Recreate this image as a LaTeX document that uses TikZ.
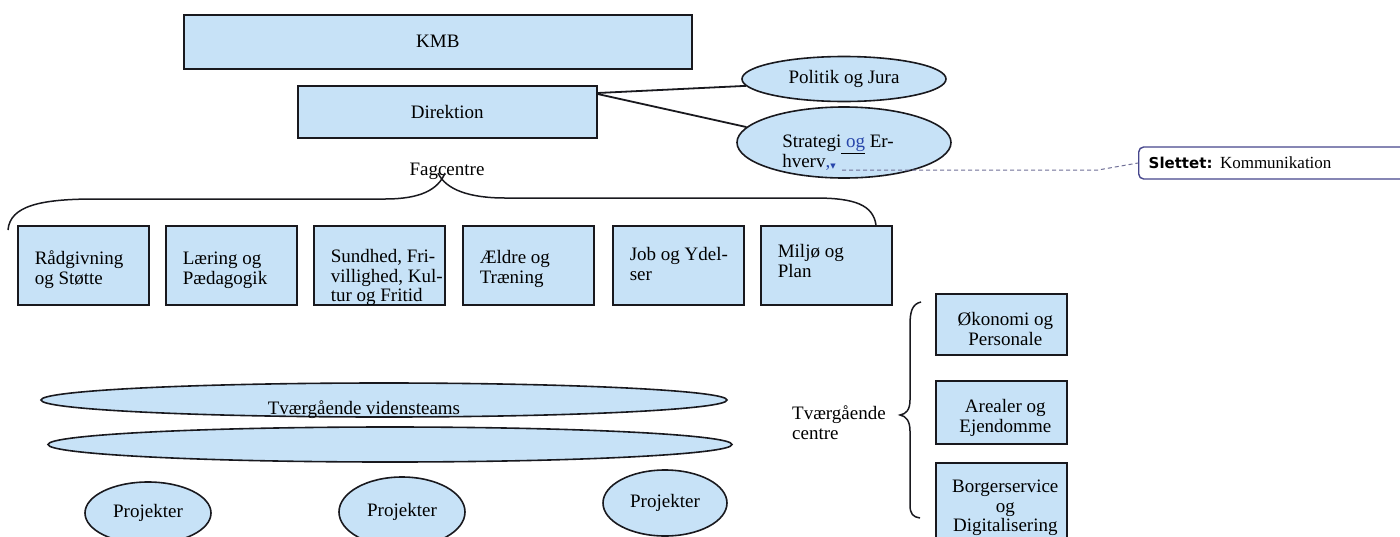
\documentclass[tikz,border=0pt]{standalone}
\usepackage{fontspec}
\setmainfont{Liberation Serif}
\newfontfamily\tnr{Liberation Serif}
\newfontfamily\dvs{DejaVu Sans}
\usetikzlibrary{shapes.geometric,calc}
\definecolor{fillblue}{RGB}{199,226,247}
\definecolor{edgec}{RGB}{25,25,30}
\definecolor{tblue}{RGB}{40,70,170}
\definecolor{dashc}{RGB}{110,110,150}
\definecolor{slc}{RGB}{70,70,140}
% left-aligned text block with fixed first baseline
\newcommand\tbk[2]{\parbox[c][79pt][t]{131pt}{\raggedright\leftskip=17pt\rule{0pt}{#1pt}#2}}
% centred text block: first baseline, height
\newcommand\cbk[3]{\parbox[c][#2pt][t]{131pt}{\centering\leftskip=8pt plus 1fil\rule{0pt}{#1pt}#3}}
\begin{document}
\begin{tikzpicture}[x=1pt,y=-1pt,
  every node/.style={font=\tnr\fontsize{19}{19.5}\selectfont},
  sqbox/.style={draw=edgec, line width=1.6pt, fill=fillblue, inner sep=0pt, anchor=north west},
  fcbox/.style={sqbox, minimum width=131pt, minimum height=79pt},
  oval/.style={ellipse, draw=edgec, line width=1.6pt, fill=fillblue, inner sep=0pt},
  conn/.style={draw=edgec, line width=1.8pt},
  brace/.style={draw=edgec, line width=1.5pt},
  dashline/.style={draw=dashc, line width=1pt, dash pattern=on 4pt off 3pt}]
\useasboundingbox (0,0) rectangle (1400,536);
\clip (0,0) rectangle (1400,536);

% top boxes
\node[sqbox, minimum width=508pt, minimum height=54pt] (kmb) at (183,14) {KMB};
\node[sqbox, minimum width=299pt, minimum height=52pt] (dir) at (297,85) {Direktion};

% staff ellipses
\node[oval, minimum width=204pt, minimum height=45pt] (pol) at (844,79) {Politik og Jura};
\node[oval, minimum width=214pt, minimum height=71pt,
  label={[align=left, xshift=-6pt, yshift=-10pt]center:Strategi\underline{\color{tblue}\ og} Er-\\hverv{\color{tblue},\raisebox{-1pt}{\dvs\fontsize{7}{7}\selectfont ▼}}}] (strat) at (844,142.5) {};

% connectors to staff ellipses
\draw[conn] ($(dir.north east)+(0,8)$) -- (pol.184);
\draw[conn] ($(dir.north east)+(0,9)$) -- (strat.171);

% deleted-comment balloon
\coordinate (mk) at (842,170);
\node[draw=slc, line width=1.4pt, rounded corners=5pt, fill=white, anchor=west,
  minimum height=32pt, text width=272pt, inner xsep=10pt, align=left,
  font=\tnr\fontsize{17}{18}\selectfont] (sl) at (1138,163)
  {{\dvs\bfseries\fontsize{15}{15}\selectfont Slettet:}\hspace{-1pt} Kommunikation};
\draw[dashline] (mk) -- ++(256,0) -- (sl.west);

% Fagcentre brace
\node[anchor=base] (fag) at (447,175) {Fagcentre};
\draw[brace] (8,230) .. controls (10,206) and (40,199) .. (95,199) -- (385,199)
  .. controls (420,199) and (438,190) .. (445,173);
\draw[brace] (438,173) .. controls (446,190) and (470,198) .. (505,198) -- (815,198)
  .. controls (855,198) and (873,205) .. (876,225);

% row of Fagcentre
\node[fcbox] (f1) at (17,225)  {\tbk{39}{Rådgivning\\og Støtte}};
\node[fcbox] (f2) at (165,225) {\tbk{39}{Læring og\\Pædagogik}};
\node[fcbox] (f3) at (313,225) {\tbk{37}{Sundhed, Fri-\\villighed, Kul-\\tur og Fritid}};
\node[fcbox] (f4) at (462,225) {\tbk{38}{Ældre og\\Træning}};
\node[fcbox] (f5) at (612,225) {\tbk{35}{Job og Ydel-\\ser}};
\node[fcbox] (f6) at (760,225) {\tbk{32}{Miljø og\\Plan}};

% Tværgående centre
\node[anchor=north west, align=left, inner sep=0pt] (tvc) at (792,406) {Tværgående\\centre};
\draw[brace] (921,302) .. controls (912,304) and (910,312) .. (910,325) -- (910,400)
  .. controls (910,410) and (906,414) .. (900,415)
  .. controls (906,416) and (910,421) .. (910,431) -- (910,505)
  .. controls (910,514) and (913,517) .. (920,518);
\node[sqbox, minimum width=131pt, minimum height=61pt] (c1) at (935,293) {\cbk{32}{61}{Økonomi og\\Personale}};
\node[sqbox, minimum width=131pt, minimum height=63pt] (c2) at (935,380) {\cbk{32}{63}{Arealer og\\Ejendomme}};
\node[sqbox, minimum width=131pt, minimum height=90pt] (c3) at (935,462) {\cbk{30}{90}{Borgerservice\\og\\Digitalisering}};

% vidensteams
\node[oval, minimum width=686pt, minimum height=34pt,
  label={[xshift=-20pt, yshift=-10pt]center:Tværgående vidensteams}] (vt1) at (384,400) {};
\node[oval, minimum width=684pt, minimum height=35pt] (vt2) at (390,444.5) {};

% projects
\node[oval, minimum width=126pt, minimum height=62pt] (p1) at (148,513) {Projekter};
\node[oval, minimum width=126pt, minimum height=70pt] (p2) at (402,512) {Projekter};
\node[oval, minimum width=124pt, minimum height=66pt] (p3) at (665,503) {Projekter};
\end{tikzpicture}
\end{document}
